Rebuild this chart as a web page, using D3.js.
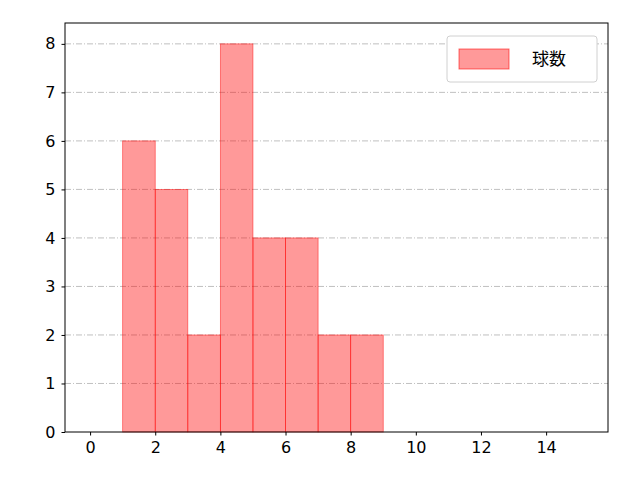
<!DOCTYPE html>
<html><head><meta charset="utf-8">
<script src="https://cdn.jsdelivr.net/npm/d3@7"></script>
<style>body{margin:0;background:#fff}</style>
</head><body>
<script>
// histogram bins (start, end) and counts
var binStarts = [1, 2, 3, 4, 5, 6, 7, 8];
var counts = [6, 5, 2, 8, 4, 4, 2, 2];
var xTicks = [0, 2, 4, 6, 8, 10, 12, 14];
var yTicks = [0, 1, 2, 3, 4, 5, 6, 7, 8];
var legendLabel = "球数";

var W = 640, H = 480;
var m = {left: 65, right: 32, top: 23, bottom: 48};
var font = "'DejaVu Sans', 'Noto Sans CJK JP', sans-serif";

var svg = d3.select("body").append("svg").attr("width", W).attr("height", H);

var x = d3.scaleLinear().domain([-0.77, 15.9]).range([m.left, W - m.right]);
var y = d3.scaleLinear().domain([0, 8.43]).range([H - m.bottom, m.top]);

// grid
svg.append("g").selectAll("line").data(yTicks.slice(1)).enter().append("line")
    .attr("x1", m.left).attr("x2", W - m.right)
    .attr("y1", function(d) { return y(d); }).attr("y2", function(d) { return y(d); })
    .attr("stroke", "#b0b0b0").attr("stroke-width", 0.8)
    .attr("stroke-dasharray", "6,2,1,2");

// bars
svg.append("g").selectAll("rect").data(binStarts).enter().append("rect")
    .attr("x", function(d) { return x(d); })
    .attr("width", function(d) { return x(d + 1) - x(d); })
    .attr("y", function(d, i) { return y(counts[i]); })
    .attr("height", function(d, i) { return y(0) - y(counts[i]); })
    .attr("fill", "rgba(255,0,0,0.4)")
    .attr("stroke", "rgba(255,0,0,0.55)").attr("stroke-width", 0.8);

// axes
var xAxis = svg.append("g").attr("transform", "translate(0," + (H - m.bottom) + ")")
    .call(d3.axisBottom(x).tickValues(xTicks).tickSize(3.5).tickPadding(6));
var yAxis = svg.append("g").attr("transform", "translate(" + m.left + ",0)")
    .call(d3.axisLeft(y).tickValues(yTicks).tickSize(3.5).tickPadding(6));
[xAxis, yAxis].forEach(function(a) {
    a.select(".domain").remove();
    a.selectAll("text").attr("font-size", 16).attr("font-family", font).attr("fill", "#000");
    a.selectAll("line").attr("stroke", "#000");
});

// frame
svg.append("rect").attr("x", m.left).attr("y", m.top)
    .attr("width", W - m.left - m.right).attr("height", H - m.top - m.bottom)
    .attr("fill", "none").attr("stroke", "#000").attr("stroke-width", 1);

// legend
var lg = svg.append("g");
lg.append("rect").attr("x", 447).attr("y", 36).attr("width", 150).attr("height", 46)
    .attr("rx", 3).attr("fill", "#fff").attr("stroke", "#d0d0d0");
lg.append("rect").attr("x", 459).attr("y", 49).attr("width", 50).attr("height", 20)
    .attr("fill", "rgba(255,0,0,0.4)").attr("stroke", "rgba(255,0,0,0.55)");
lg.append("text").attr("x", 532).attr("y", 65).text(legendLabel)
    .attr("font-size", 17).attr("font-family", "'Noto Sans CJK JP', sans-serif");
</script>
</body></html>
